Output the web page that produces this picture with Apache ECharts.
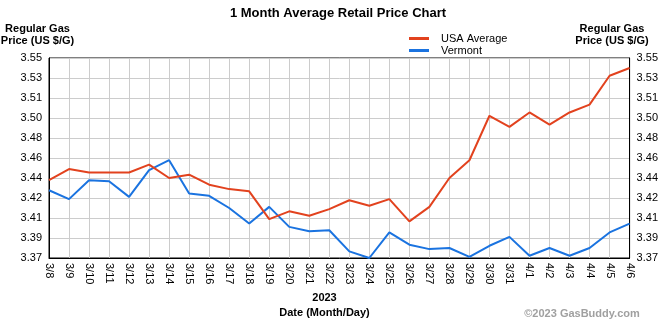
<!DOCTYPE html>
<html><head><meta charset="utf-8">
<script src="https://cdn.jsdelivr.net/npm/echarts@6/dist/echarts.min.js"></script>
<style>html,body{margin:0;padding:0;background:#fff}#c{width:661px;height:328px}</style>
</head><body><div id="c"></div>
<script>
const dates = ['3/8','3/9','3/10','3/11','3/12','3/13','3/14','3/15','3/16','3/17','3/18','3/19','3/20','3/21','3/22','3/23','3/24','3/25','3/26','3/27','3/28','3/29','3/30','3/31','4/1','4/2','4/3','4/4','4/5','4/6'];
const usaAverage = [3.440,3.450,3.447,3.447,3.447,3.454,3.442,3.445,3.436,3.432,3.430,3.405,3.412,3.408,3.414,3.422,3.417,3.423,3.403,3.416,3.442,3.458,3.498,3.488,3.501,3.490,3.501,3.508,3.534,3.541];
const vermont = [3.431,3.423,3.440,3.439,3.425,3.449,3.458,3.428,3.426,3.415,3.401,3.416,3.398,3.394,3.395,3.376,3.370,3.393,3.382,3.378,3.379,3.371,3.381,3.389,3.372,3.379,3.372,3.379,3.393,3.401];
const yTickLabels = ['3.37','3.39','3.41','3.42','3.44','3.46','3.48','3.50','3.51','3.53','3.55'];
const yMin = 3.37, yMax = 3.55;
const yStep = (yMax - yMin) / (yTickLabels.length - 1);
const FONT = "'Liberation Sans', Arial, sans-serif";
const RED = '#e2421e', BLUE = '#1a73e0';

const fmt = v => {
  const i = Math.round((v - yMin) / yStep);
  return Math.abs(v - (yMin + i * yStep)) < 1e-6 ? yTickLabels[i] : '';
};
const yAxisBase = pos => ({
  type: 'value', position: pos, min: yMin, max: yMax, interval: yStep,
  axisLine: {show: true, lineStyle: {color: '#000', width: 1}},
  axisTick: {show: false},
  axisLabel: {formatter: fmt, color: '#000', fontFamily: FONT, fontSize: 11, margin: 7},
  splitLine: {show: pos === 'left', lineStyle: {color: '#cccccc', width: 1}}
});

const chart = echarts.init(document.getElementById('c'), null, {renderer: 'canvas'});
chart.setOption({
  animation: false,
  backgroundColor: '#fff',
  title: {text: '1 Month Average Retail Price Chart', left: 333, top: 2, textAlign: 'center',
    textStyle: {fontFamily: FONT, fontSize: 13, fontWeight: 'bold', color: '#000'}},
  legend: {orient: 'vertical', left: 409, top: 33, icon: 'rect', itemWidth: 20, itemHeight: 3, itemGap: 1,
    padding: 0, textStyle: {fontFamily: FONT, fontSize: 11, color: '#000', padding: [0,0,0,7]},
    data: ['USA Average', 'Vermont']},
  grid: {left: 49, right: 31, top: 58, bottom: 70, show: true, borderColor: '#000', borderWidth: 1},
  xAxis: {type: 'category', data: dates, boundaryGap: false,
    axisLine: {lineStyle: {color: '#000'}}, axisTick: {show: false},
    axisLabel: {rotate: -90, interval: 0, color: '#000', fontFamily: FONT, fontSize: 11, margin: 5},
    splitLine: {show: true, interval: 0, lineStyle: {color: '#cccccc', width: 1}}},
  yAxis: [yAxisBase('left'), yAxisBase('right')],
  series: [
    {name: 'USA Average', type: 'line', data: usaAverage, symbol: 'none', color: RED, lineStyle: {color: RED, width: 2}, z: 3},
    {name: 'Vermont', type: 'line', data: vermont, symbol: 'none', color: BLUE, lineStyle: {color: BLUE, width: 2}, z: 2}
  ],
  graphic: [
    {type: 'text', x: 37.5, y: 23, style: {text: 'Regular Gas\nPrice (US $/G)', align: 'center', font: "bold 11px " + FONT, lineHeight: 12, fill: '#000'}},
    {type: 'text', x: 612, y: 23, style: {text: 'Regular Gas\nPrice (US $/G)', align: 'center', font: "bold 11px " + FONT, lineHeight: 12, fill: '#000'}},
    {type: 'text', x: 324.5, y: 292, style: {text: '2023', align: 'center', font: "bold 11px " + FONT, fill: '#000'}},
    {type: 'text', x: 324.5, y: 307, style: {text: 'Date (Month/Day)', align: 'center', font: "bold 11px " + FONT, fill: '#000'}},
    {type: 'text', x: 582, y: 308, style: {text: '\u00a92023 GasBuddy.com', align: 'center', font: "bold 11px " + FONT, fill: '#a0a0a0'}}
  ]
});
</script></body></html>
